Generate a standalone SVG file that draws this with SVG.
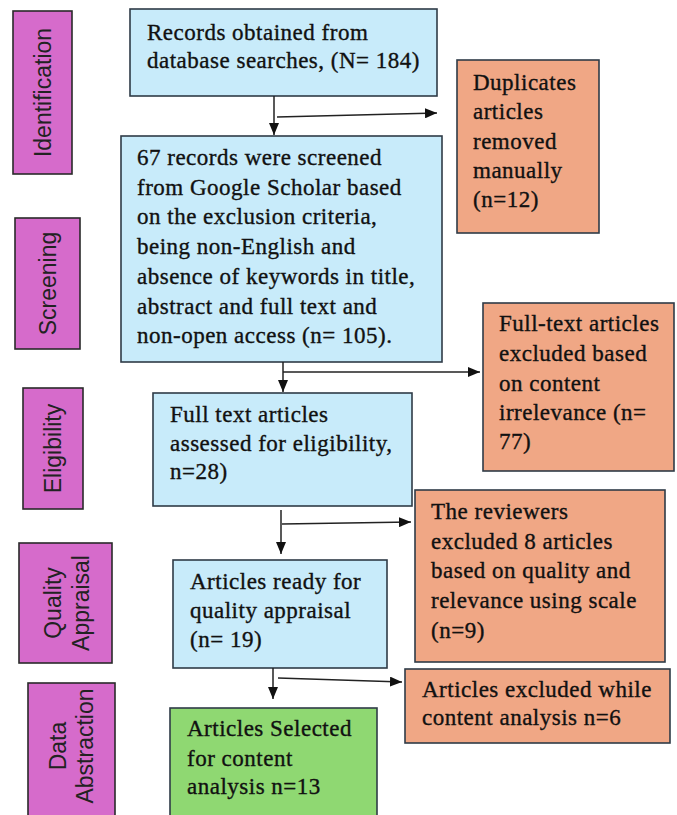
<svg xmlns="http://www.w3.org/2000/svg" width="677" height="815" viewBox="0 0 677 815">
<defs>
<marker id="ah" markerWidth="12" markerHeight="10" refX="12" refY="5" orient="auto" markerUnits="userSpaceOnUse"><path d="M0,0 L12,5 L0,10 z" fill="#111"/></marker>
<style>
.stage rect{fill:#D66BCB;stroke:#2a2a2a;stroke-width:1.6}
.stage text{font-family:"Liberation Sans",Arial,sans-serif;font-size:23px;fill:#222;text-anchor:middle}
.box{stroke:#2f3b47;stroke-width:1.6}
.blue{fill:#C8EBFA}
.orange{fill:#F0A785}
.green{fill:#8FD872}
.t{font-family:"Liberation Serif","Times New Roman",serif;font-size:23px;fill:#111;stroke:#111;stroke-width:0.35;letter-spacing:0.5px}
.conn line{stroke:#222;stroke-width:1.5;fill:none}
.conn .arr{marker-end:url(#ah)}
</style>
</defs>
<rect width="677" height="815" fill="#fff"/>

<g id="stage-identification" class="stage">
<rect x="13" y="11" width="59" height="163"/>
<text transform="translate(42.5,92.5) rotate(-90)" y="8">Identification</text>
</g>
<g id="stage-screening" class="stage">
<rect x="15" y="218" width="65" height="131"/>
<text transform="translate(47.5,283.5) rotate(-90)" y="8">Screening</text>
</g>
<g id="stage-eligibility" class="stage">
<rect x="23" y="388" width="60" height="121"/>
<text transform="translate(53,448.5) rotate(-90)" y="8">Eligibility</text>
</g>
<g id="stage-quality" class="stage">
<rect x="19" y="543" width="93" height="120"/>
<text transform="translate(65.5,603) rotate(-90)"><tspan x="0" y="-5">Quality</tspan><tspan x="0" y="23">Appraisal</tspan></text>
</g>
<g id="stage-data" class="stage">
<rect x="28" y="683" width="87" height="150"/>
<text transform="translate(71.5,746) rotate(-90)"><tspan x="0" y="-5.5">Data</tspan><tspan x="0" y="21.5">Abstraction</tspan></text>
</g>

<g id="records">
<rect class="box blue" x="130" y="9" width="307" height="87"/>
<text class="t"><tspan x="147" y="40">Records obtained from</tspan><tspan x="147" y="68">database searches, (N= 184)</tspan></text>
</g>
<g id="duplicates">
<rect class="box orange" x="457" y="60" width="142" height="173"/>
<text class="t"><tspan x="473" y="90">Duplicates</tspan><tspan x="473" y="119">articles</tspan><tspan x="473" y="149">removed</tspan><tspan x="473" y="178">manually</tspan><tspan x="473" y="207">(n=12)</tspan></text>
</g>
<g id="screened">
<rect class="box blue" x="121" y="136" width="321" height="226"/>
<text class="t"><tspan x="137" y="165">67 records were screened</tspan><tspan x="137" y="194.7">from Google Scholar based</tspan><tspan x="137" y="224.4">on the exclusion criteria,</tspan><tspan x="137" y="254.1">being non-English and</tspan><tspan x="137" y="283.8">absence of keywords in title,</tspan><tspan x="137" y="313.5">abstract and full text and</tspan><tspan x="137" y="343.2">non-open access (n= 105).</tspan></text>
</g>
<g id="fulltext-excluded">
<rect class="box orange" x="483" y="303" width="191" height="168"/>
<text class="t"><tspan x="499" y="331">Full-text articles</tspan><tspan x="499" y="361">excluded based</tspan><tspan x="499" y="391">on content</tspan><tspan x="499" y="420">irrelevance (n=</tspan><tspan x="499" y="449">77)</tspan></text>
</g>
<g id="assessed">
<rect class="box blue" x="153" y="393" width="259" height="113"/>
<text class="t"><tspan x="170" y="422">Full text articles</tspan><tspan x="170" y="451">assessed for eligibility,</tspan><tspan x="170" y="479">n=28)</tspan></text>
</g>
<g id="reviewers">
<rect class="box orange" x="415" y="490" width="250" height="172"/>
<text class="t"><tspan x="431" y="519">The reviewers</tspan><tspan x="431" y="548.7">excluded 8 articles</tspan><tspan x="431" y="578.4">based on quality and</tspan><tspan x="431" y="608.1">relevance using scale</tspan><tspan x="431" y="637.8">(n=9)</tspan></text>
</g>
<g id="ready">
<rect class="box blue" x="173" y="560" width="214" height="108"/>
<text class="t"><tspan x="190" y="589">Articles ready for</tspan><tspan x="190" y="618">quality appraisal</tspan><tspan x="190" y="647">(n= 19)</tspan></text>
</g>
<g id="excluded-content">
<rect class="box orange" x="405" y="669" width="265" height="74"/>
<text class="t"><tspan x="422" y="697">Articles excluded while</tspan><tspan x="422" y="725">content analysis n=6</tspan></text>
</g>
<g id="selected">
<rect class="box green" x="170" y="708" width="207" height="120"/>
<text class="t"><tspan x="187" y="736">Articles Selected</tspan><tspan x="187" y="766">for content</tspan><tspan x="187" y="794">analysis n=13</tspan></text>
</g>

<g id="connectors" class="conn">
<line class="arr" x1="274" y1="96" x2="274" y2="135"/>
<line class="arr" x1="277" y1="117" x2="437" y2="113"/>
<line class="arr" x1="283" y1="362" x2="283" y2="392"/>
<line class="arr" x1="283" y1="372" x2="480" y2="372"/>
<line class="arr" x1="281" y1="510" x2="281" y2="554"/>
<line class="arr" x1="282" y1="524" x2="411" y2="522"/>
<line class="arr" x1="273" y1="668" x2="273" y2="699"/>
<line class="arr" x1="278" y1="678" x2="402" y2="682"/>
</g>
</svg>
